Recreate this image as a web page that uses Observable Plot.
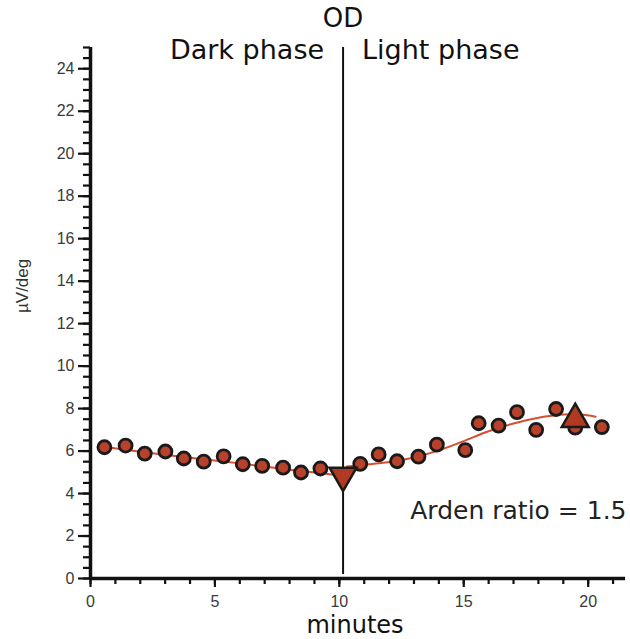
<!DOCTYPE html>
<html>
<head>
<meta charset="utf-8">
<script src="https://cdn.jsdelivr.net/npm/d3@7"></script>
<script src="https://cdn.jsdelivr.net/npm/@observablehq/plot@0.6"></script>
<style>
  html, body { margin: 0; padding: 0; background: #fff; }
  #chart { width: 630px; height: 639px; }
</style>
</head>
<body>
<div id="chart"></div>
<script>
// Measured points (minutes, µV/deg)
const minutes   = [0.56, 1.41, 2.18, 3.01, 3.75, 4.55, 5.35, 6.12, 6.9, 7.74, 8.46, 9.24,
                   10.84, 11.58, 12.32, 13.18, 13.92, 15.06, 15.6, 16.4, 17.14, 17.91, 18.71, 19.48, 20.55];
const amplitude = [6.18, 6.26, 5.88, 5.98, 5.65, 5.5, 5.75, 5.38, 5.3, 5.22, 4.99, 5.18,
                   5.4, 5.84, 5.52, 5.74, 6.3, 6.04, 7.31, 7.2, 7.83, 7.0, 7.98, 7.1, 7.13];

// Fitted curves
const darkFitX  = [0.5, 2, 4, 6, 8, 9.3, 10.15];
const darkFitY  = [6.2, 5.97, 5.68, 5.42, 5.12, 4.95, 4.83];
const lightFitX = [10.3, 11, 12, 13, 14, 15, 16, 17, 18, 19, 19.7, 20.3];
const lightFitY = [5.27, 5.35, 5.48, 5.7, 6.03, 6.47, 6.93, 7.3, 7.57, 7.72, 7.72, 7.62];

// Trough and peak
const troughX = 10.15, troughY = 4.85;
const peakX = 19.48, peakY = 7.5;

// OD (onset of light) time
const odTime = 10.15;

// Ticks
const xMajorTicks = [0, 5, 10, 15, 20];
const xMinorTicks = d3.range(0, 22, 1);
const yMajorTicks = d3.range(0, 25, 2);
const yMinorTicks = d3.range(0, 25.01, 0.5);

const points = minutes.map((m, i) => ({x: m, y: amplitude[i]}));
const darkFit = darkFitX.map((x, i) => ({x, y: darkFitY[i]}));
const lightFit = lightFitX.map((x, i) => ({x, y: lightFitY[i]}));

const annFont = "DejaVu Sans, Verdana, sans-serif";
const tickFont = "Liberation Sans, Arial, sans-serif";

const chart = Plot.plot({
  width: 630,
  height: 639,
  marginLeft: 90,
  marginRight: 5,
  marginTop: 47,
  marginBottom: 61,
  x: {domain: [0, 21.5], axis: null, label: null},
  y: {domain: [0, 25], axis: null, label: null},
  style: {fontFamily: tickFont, background: "#fff"},
  marks: [
    // minor ticks
    Plot.axisY(yMinorTicks, {tickSize: 7, text: null, strokeWidth: 2.2, stroke: "#111", label: null}),
    Plot.axisX(xMinorTicks, {tickSize: 6, text: null, strokeWidth: 2.2, stroke: "#111", label: null}),
    // major ticks
    Plot.axisY(yMajorTicks, {tickSize: 12, text: null, strokeWidth: 2.2, stroke: "#111", label: null}),
    Plot.axisX(xMajorTicks, {tickSize: 9, text: null, strokeWidth: 2.2, stroke: "#111", label: null}),
    // tick labels
    Plot.text(yMajorTicks, {x: 0, y: d => d, text: d => String(d), dx: -16, textAnchor: "end",
      lineAnchor: "middle", fontSize: 16, fontFamily: tickFont, fill: "#3a3a3a"}),
    Plot.text(xMajorTicks, {x: d => d, y: 0, text: d => String(d), dy: 23,
      lineAnchor: "middle", fontSize: 16, fontFamily: tickFont, fill: "#3a3a3a"}),
    // axis lines
    Plot.ruleX([0], {y1: 0, y2: 25, strokeWidth: 3.5, stroke: "#111"}),
    Plot.ruleY([0], {x1: 0, x2: 21.5, strokeWidth: 3.5, stroke: "#111"}),
    // OD line
    Plot.ruleX([odTime], {y1: 0, y2: 25, insetTop: -4, strokeWidth: 2, stroke: "#111"}),
    // fitted curves
    Plot.line(darkFit, {x: "x", y: "y", curve: "catmull-rom", stroke: "#d4502f", strokeWidth: 2}),
    Plot.line(lightFit, {x: "x", y: "y", curve: "catmull-rom", stroke: "#d4502f", strokeWidth: 2}),
    // data points
    Plot.dot(points, {x: "x", y: "y", r: 6.5, fill: "#b8412b", stroke: "#1a1a1a", strokeWidth: 2.8}),
    // trough & peak
    Plot.dot([{x: troughX, y: troughY}], {x: "x", y: "y", symbol: "triangle", rotate: 180, r: 10,
      fill: "#b03a22", stroke: "#1a1a1a", strokeWidth: 2.5}),
    Plot.dot([{x: peakX, y: peakY}], {x: "x", y: "y", symbol: "triangle", r: 10,
      fill: "#b03a22", stroke: "#1a1a1a", strokeWidth: 2.5}),
    // annotations
    Plot.text(["OD"], {x: odTime, frameAnchor: "top", lineAnchor: "middle", dy: -29,
      fontSize: 26, fontFamily: annFont, fill: "#111"}),
    Plot.text(["Dark phase"], {x: odTime, frameAnchor: "top", lineAnchor: "middle", dx: -19, dy: 3,
      textAnchor: "end", fontSize: 27, fontFamily: annFont, fill: "#111"}),
    Plot.text(["Light phase"], {x: odTime, frameAnchor: "top", lineAnchor: "middle", dx: 19, dy: 3,
      textAnchor: "start", fontSize: 27, fontFamily: annFont, fill: "#111"}),
    Plot.text(["Arden ratio = 1.5"], {frameAnchor: "bottom-right", lineAnchor: "middle", dx: 1, dy: -68,
      textAnchor: "end", fontSize: 25, fontFamily: annFont, fill: "#222"}),
    Plot.text(["minutes"], {frameAnchor: "bottom", lineAnchor: "middle", dx: -3, dy: 47,
      fontSize: 24, fontFamily: annFont, fill: "#111"}),
    Plot.text(["µV/deg"], {frameAnchor: "left", lineAnchor: "middle", dx: -68, rotate: -90,
      fontSize: 17, fontFamily: tickFont, fill: "#333"})
  ]
});

document.getElementById("chart").appendChild(chart);
</script>
</body>
</html>
